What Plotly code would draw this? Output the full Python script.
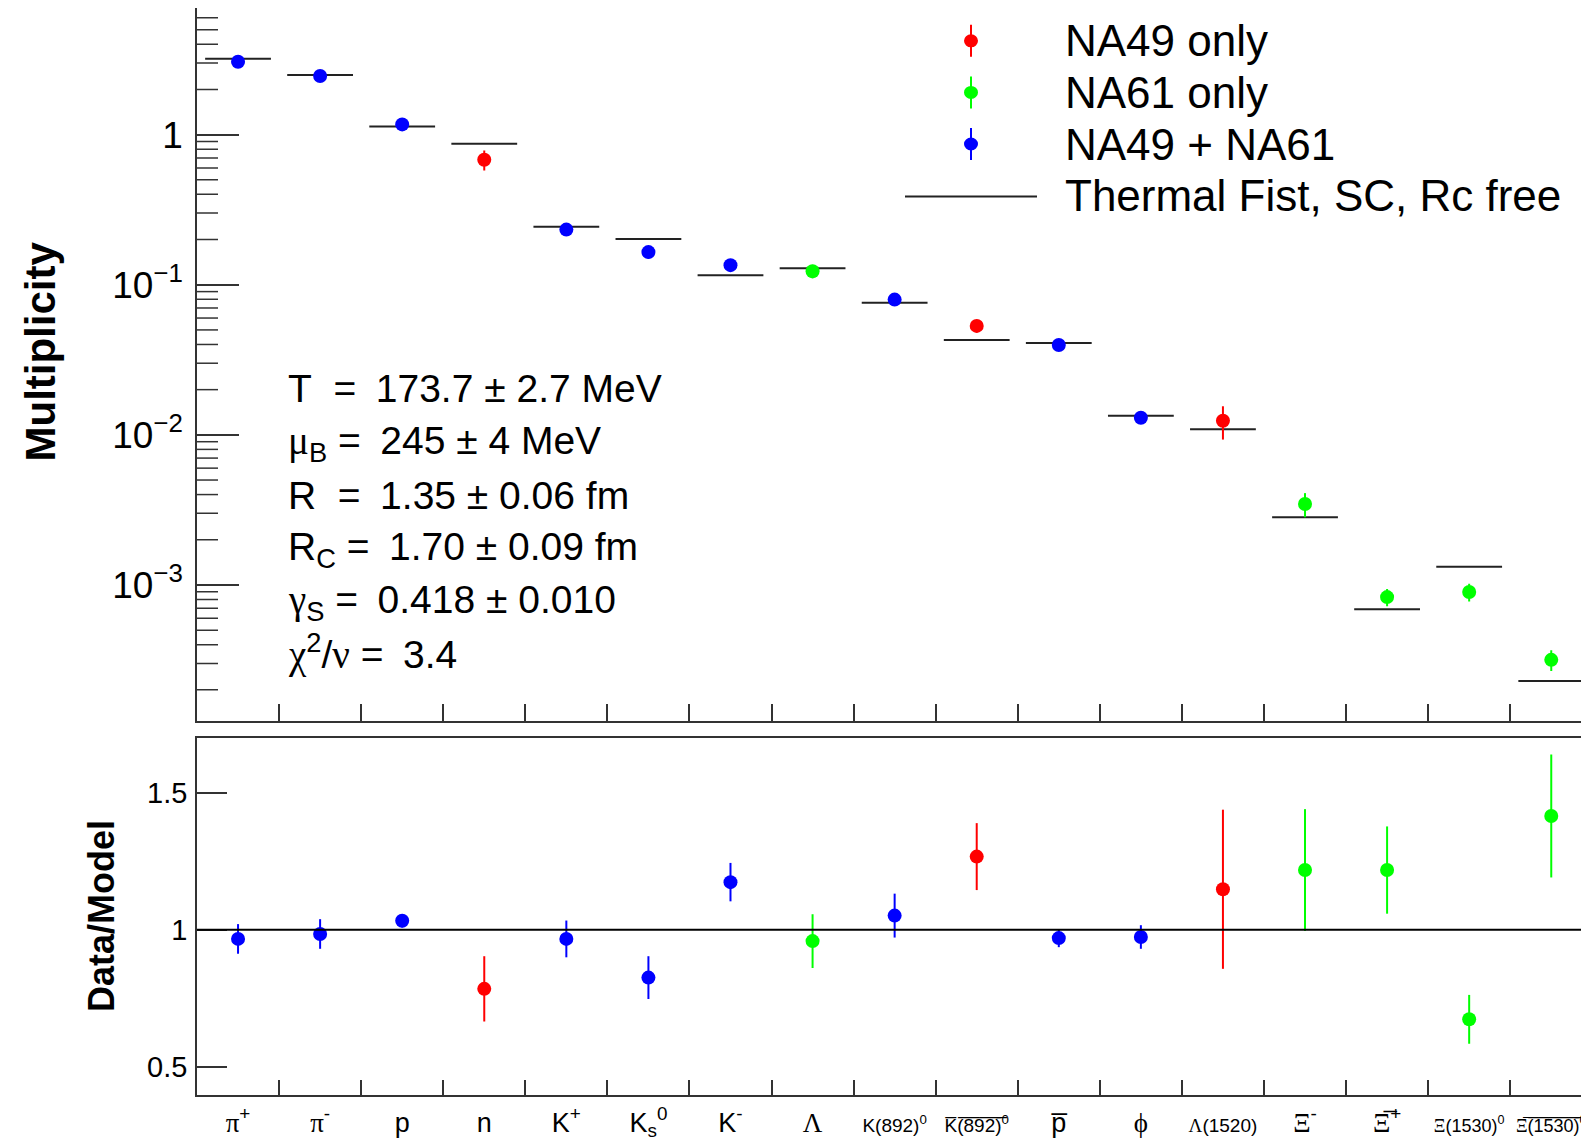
import math
import plotly.graph_objects as go

# The page body adds an 8 px margin, so the figure is drawn 8 px smaller and
# every screen position below is converted with fx / fy.
OFF = 8
WIN_W, WIN_H = 1589, 1138
W, H = WIN_W - OFF, WIN_H - OFF
SERIF = "Liberation Serif"
SANS = "Liberation Sans, Arial, Helvetica, sans-serif"


def fx(x):
    return min(1.0, max(0.0, (x - OFF) / W))


def fy(y):
    return min(1.0, max(0.0, 1 - (y - OFF) / H))


def g(ch):
    return f'<span style="font-family:{SERIF}">{ch}</span>'


def small(s, size=19):
    return f'<span style="font-size:{size}px">{s}</span>'


OV = "\u0305"


def over(s):
    return "".join(c + OV for c in s)


# ---------------- data ----------------
tick_labels = [
    g("π") + "<sup>+</sup>",
    g("π") + "<sup>-</sup>",
    "p",
    "n",
    "K<sup>+</sup>",
    "K<sub>s</sub><sup>0</sup>",
    "K<sup>-</sup>",
    g("Λ"),
    small("K(892)<sup>0</sup>"),
    small(over("K(892)") + "<sup>0</sup>"),
    over("p"),
    g("ϕ"),
    small(g("Λ") + "(1520)"),
    g("Ξ") + "<sup>-</sup>",
    g(over("Ξ")) + "<sup>+</sup>",
    small(g("Ξ") + "(1530)<sup>0</sup>", 18),
    small(g(over("Ξ")) + over("(1530)") + "<sup>0</sup>", 18),
]

source = ["both", "both", "both", "NA49", "both", "both", "both", "NA61", "both",
          "NA49", "both", "both", "NA49", "NA61", "NA61", "NA61", "NA61"]

multiplicity = [3.06, 2.46, 1.17, 0.68, 0.233, 0.165, 0.135, 0.123, 0.0796, 0.0532,
                0.0397, 0.0130, 0.0124, 0.00346, 0.00083, 0.000897, 0.000317]
multiplicity_err = [0.17, 0.135, 0.027, 0.103, 0.016, 0.0156, 0.0081, 0.0126, 0.0061, 0.0051,
                    0.00135, 0.00057, 0.0031, 0.00063, 0.00011, 0.00012, 0.00005]
model = [3.20, 2.50, 1.135, 0.87, 0.2436, 0.202, 0.1157, 0.129, 0.076, 0.0428,
         0.0409, 0.0134, 0.0109, 0.00283, 0.00069, 0.00132, 0.000229]
ratio = [0.967, 0.985, 1.033, 0.785, 0.967, 0.826, 1.174, 0.959, 1.052, 1.267,
         0.970, 0.974, 1.148, 1.218, 1.218, 0.674, 1.415]
ratio_err = [0.054, 0.054, 0.024, 0.119, 0.067, 0.078, 0.070, 0.098, 0.080, 0.122,
             0.033, 0.043, 0.29, 0.222, 0.159, 0.089, 0.224]

groups = [("NA49", "NA49 only", "#ff0000"),
          ("NA61", "NA61 only", "#00ff00"),
          ("both", "NA49 + NA61", "#0000ff")]
model_label = "Thermal Fist, SC, Rc free"

EN = "\u2002"
fit_lines = [
    "T\u00a0\u00a0=" + EN + "173.7 ± 2.7 MeV",
    g("μ") + "<sub>B</sub> =" + EN + "245 ± 4 MeV",
    "R\u00a0\u00a0=" + EN + "1.35 ± 0.06 fm",
    "R<sub>C</sub> =" + EN + "1.70 ± 0.09 fm",
    g("γ") + "<sub>S</sub> =" + EN + "0.418 ± 0.010",
    g("χ") + "<sup>2</sup>/" + g("ν") + " =" + EN + "3.4",
]

# ---------------- figure ----------------
fig = go.Figure()

# model lines (top panel); line-ew length is 1.4 x marker size
fig.add_trace(go.Scatter(
    x=tick_labels, y=model, mode="markers", xaxis="x", yaxis="y",
    marker=dict(symbol="line-ew", size=47, line=dict(color="#222222", width=2)),
    showlegend=False, hoverinfo="skip"))

for key, name, color in groups:
    idx = [i for i, s in enumerate(source) if s == key]
    xs = [tick_labels[i] for i in idx]
    fig.add_trace(go.Scatter(
        x=xs, y=[multiplicity[i] for i in idx], mode="markers", xaxis="x", yaxis="y",
        marker=dict(color=color, size=14, symbol="circle"),
        error_y=dict(type="data", array=[multiplicity_err[i] for i in idx],
                     color=color, thickness=2, width=0),
        name=name, showlegend=False))
    fig.add_trace(go.Scatter(
        x=xs, y=[ratio[i] for i in idx], mode="markers", xaxis="x2", yaxis="y2",
        marker=dict(color=color, size=14, symbol="circle"),
        error_y=dict(type="data", array=[ratio_err[i] for i in idx],
                     color=color, thickness=2, width=0),
        name=name, showlegend=False))

AX_L = 197
TOP_Y = 8.0      # top edge of the upper frame on screen
top_dom = [fy(720.5), fy(TOP_Y)]
bot_dom = [fy(1094.5), fy(737.8)]
xrange = [-0.5, 16.46]
ytop_log = (134.8 - TOP_Y) / 150.3
axcol = "#333333"

common_x = dict(type="category", categoryorder="array", categoryarray=tick_labels,
                range=xrange, tickson="boundaries", ticks="inside", tickwidth=1.5,
                tickcolor=axcol, showline=True, linecolor=axcol, linewidth=1.5,
                mirror=True, showgrid=False, zeroline=False, automargin=False,
                domain=[fx(AX_L), 1])

fig.update_layout(
    width=W, height=H,
    margin=dict(l=0, r=0, t=0, b=0),
    paper_bgcolor="white", plot_bgcolor="white",
    font=dict(family=SANS, color="black"),
    xaxis=dict(common_x, anchor="y", ticklen=17, showticklabels=False),
    xaxis2=dict(common_x, anchor="y2", ticklen=15, showticklabels=True,
                tickfont=dict(size=27, family=SANS), ticklabelstandoff=3, tickangle=0),
    yaxis=dict(type="log", domain=top_dom,
               range=[math.log10(1.25e-4), ytop_log],
               tickmode="array", tickvals=[1e-3, 1e-2, 1e-1, 1],
               ticktext=["10<sup>\u22123</sup>", "10<sup>\u22122</sup>",
                         "10<sup>\u22121</sup>", "1"],
               ticks="inside", ticklen=42, tickwidth=1.5, tickcolor=axcol,
               showline=True, linecolor=axcol, linewidth=1.5, mirror=False,
               showgrid=False, zeroline=False, automargin=False,
               tickfont=dict(size=37, family=SANS), ticklabelstandoff=5,
               anchor="x"),
    yaxis2=dict(domain=bot_dom, range=[0.4, 1.7],
                tickmode="array", tickvals=[0.5, 1, 1.5], ticktext=["0.5", "1", "1.5"],
                ticks="inside", ticklen=30, tickwidth=1.5, tickcolor=axcol,
                showline=True, linecolor=axcol, linewidth=1.5, mirror=False,
                showgrid=False, zeroline=False, automargin=False,
                tickfont=dict(size=29, family=SANS), ticklabelstandoff=2,
                anchor="x2"),
)

shapes = []
plot_w = WIN_W - AX_L
# minor log ticks on the top panel
for dec in range(-4, 1):
    for d in range(2, 10):
        v = d * 10 ** dec
        if 1.25e-4 < v < 10 ** ytop_log:
            shapes.append(dict(type="line", xref="x domain", yref="y",
                               x0=0, x1=21 / plot_w, y0=v, y1=v,
                               line=dict(color=axcol, width=1.5)))
# unity line in ratio panel
shapes.append(dict(type="line", xref="x2 domain", yref="y2", x0=0, x1=1, y0=1, y1=1,
                   line=dict(color="black", width=2)))

# legend (manual, ROOT style)
rows = [40.8, 92.4, 144.0]
mx = 971
for (key, name, color), ry in zip(groups, rows):
    shapes.append(dict(type="line", xref="paper", yref="paper",
                       x0=fx(mx), x1=fx(mx), y0=fy(ry - 16), y1=fy(ry + 16),
                       line=dict(color=color, width=2)))
    shapes.append(dict(type="circle", xref="paper", yref="paper",
                       x0=fx(mx - 7), x1=fx(mx + 7),
                       y0=fy(ry - 6.5), y1=fy(ry + 6.5),
                       fillcolor=color, line=dict(color=color, width=0)))
shapes.append(dict(type="line", xref="paper", yref="paper",
                   x0=fx(905), x1=fx(1037), y0=fy(196.6), y1=fy(196.6),
                   line=dict(color="#222222", width=2)))

annotations = []
LEG_FONT = 44
for (key, name, color), ry in zip(groups, rows):
    annotations.append(dict(text=name, xref="paper", yref="paper", x=fx(1063),
                            y=fy(ry), xanchor="left", yanchor="middle",
                            showarrow=False, font=dict(size=LEG_FONT, family=SANS)))
annotations.append(dict(text=model_label, xref="paper", yref="paper", x=fx(1063),
                        y=fy(195.6), xanchor="left", yanchor="middle",
                        showarrow=False, font=dict(size=LEG_FONT, family=SANS)))

fit_y = [388, 443, 495, 549, 602, 652]
for txt, ty in zip(fit_lines, fit_y):
    annotations.append(dict(text=txt, xref="paper", yref="paper", x=fx(286),
                            y=fy(ty), xanchor="left", yanchor="middle",
                            showarrow=False, font=dict(size=39, family=SANS)))

annotations.append(dict(text="<b>Multiplicity</b>", xref="paper", yref="paper",
                        x=fx(40.5), y=fy(352), textangle=-90, showarrow=False,
                        xanchor="center", yanchor="middle",
                        font=dict(size=42, family=SANS)))
annotations.append(dict(text="<b>Data/Model</b>", xref="paper", yref="paper",
                        x=fx(101), y=fy(916), textangle=-90, showarrow=False,
                        xanchor="center", yanchor="middle",
                        font=dict(size=36, family=SANS)))

fig.update_layout(shapes=shapes, annotations=annotations)

fig.write_html("out.html")
